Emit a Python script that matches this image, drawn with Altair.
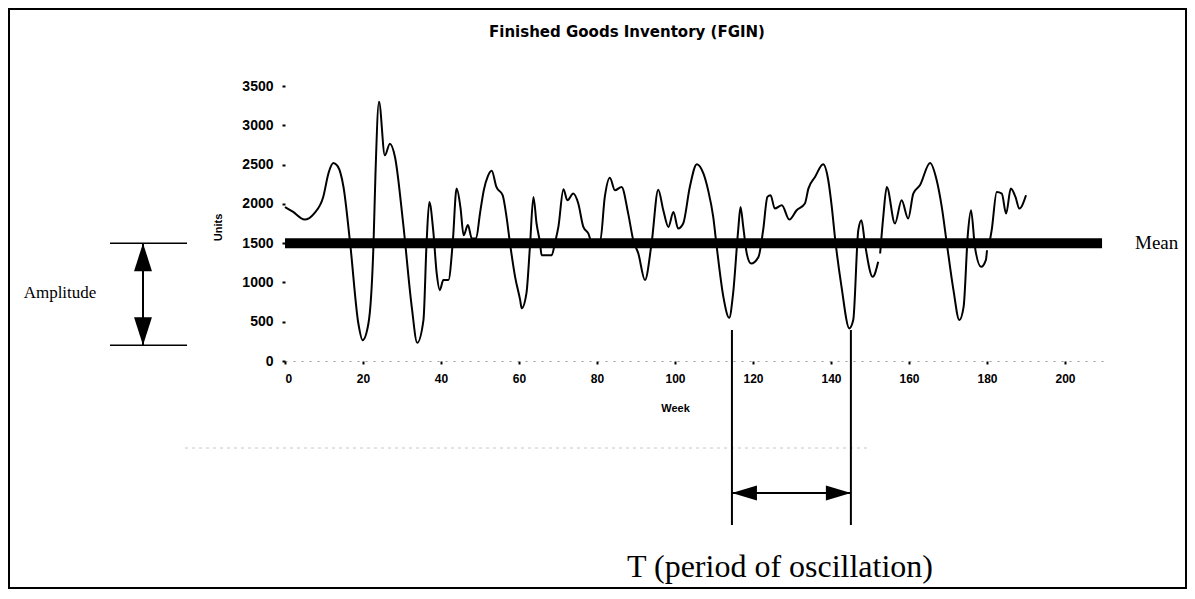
import altair as alt
import pandas as pd

# ---- data (three drawn pieces of the FGIN curve) ----
weeks_a = [0, 2, 5, 7.5, 9.8, 11.2, 12.4, 13.5, 15, 16.7, 18.8, 19.9, 21.4, 22.7, 23.2, 24.1,
           25.6, 26.9, 28.2, 30.3, 32.5, 33.9, 35.5, 36.3, 37, 38, 38.9, 39.7, 40.6, 41.9, 43, 44,
           45, 45.8, 46.9, 47.9, 49, 50, 51, 52, 53, 54.2, 55.8, 56.8, 57.7, 59, 60.3, 60.7,
           61.9, 62.8, 63.7, 64.5, 65.4, 65.8, 68.4, 69.2, 70.1, 71.4, 72.4, 73.9, 75.2, 76.5,
           77.8, 78.6, 80.8, 82, 83.3, 84.6, 86.3, 88, 89.3, 90.6, 92.3, 94, 95.7, 97, 98.3,
           99.6, 100.8, 102.1, 103.8, 105.6, 107.3, 108.5, 109.8, 110.7, 112.4, 113.9, 114.9,
           116.2, 116.8, 117.5, 118.4, 119.5, 121.4, 122.6, 123.7, 124.5, 125.6, 127.4, 129.3,
           131.2, 133.3, 134.2, 135.9, 138, 139.3, 140.2, 141, 142.7, 144.7, 145.7, 147, 147.8,
           148.7, 150.7, 152.1]
units_a = [1960, 1900, 1800, 1880, 2088, 2400, 2520, 2480, 2215, 1500, 480, 265, 480, 1500, 2385, 3300,
           2618, 2766, 2596, 1750, 690, 233, 521, 1500, 2024, 1665, 1114, 902, 1030, 1030, 1500, 2194,
           1950, 1600, 1730, 1560, 1560, 1880, 2180, 2350, 2420, 2215, 2110, 1834, 1495, 1071, 775, 670,
           860, 1453, 2088, 1750, 1500, 1347, 1347, 1500, 1707, 2185, 2046, 2131, 2004, 1707,
           1622, 1520, 1520, 2088, 2333, 2173, 2215, 1876, 1538, 1368, 1030, 1500, 2181, 1919, 1707,
           1897, 1686, 1750, 2215, 2505, 2384, 2173, 1834, 1453, 817, 550, 860,
           1665, 1961, 1707, 1368, 1241, 1325, 1665, 2088, 2110, 1940, 1982, 1800,
           1919, 2004, 2194, 2342, 2503, 2300, 1961, 1580, 944, 415, 521, 1665, 1792,
           1495, 1071, 1262]
weeks_b = [152.6, 153.4, 154.3, 156.4, 158.1, 159.8, 161.1, 162.8, 165.4, 167.1, 168.4, 169.7,
           171.4, 172.9, 174, 175.1, 175.9, 176.9, 178.5, 179.7, 180]
units_b = [1368, 1834, 2215, 1750, 2046, 1813, 2131, 2236, 2520, 2300, 1961, 1495,
           902, 521, 690, 1622, 1919, 1453, 1198, 1283, 1410]
weeks_c = [180.8, 181.2, 182.5, 183.8, 184.9, 186.1, 187.3, 188.3, 190]
units_c = [1550, 1665, 2151, 2131, 1876, 2194, 2088, 1940, 2110]

mean_value = 1500
mean_start, mean_end = 0, 209.5
period_weeks = [114.6, 145.1]
amplitude_levels = [1500, 200]

x_ticks = [0, 20, 40, 60, 80, 100, 120, 140, 160, 180, 200]
y_ticks = [0, 500, 1000, 1500, 2000, 2500, 3000, 3500]

title_text = "Finished Goods Inventory (FGIN)"

rows = []
for seg, (ws, us) in enumerate([(weeks_a, units_a), (weeks_b, units_b), (weeks_c, units_c)]):
    for w, u in zip(ws, us):
        rows.append({"week": w, "units": u, "seg": seg})
df = pd.DataFrame(rows)
one = pd.DataFrame({"k": [0]})

W, H = 819, 275
SANS = "Liberation Sans"
SERIF = "Liberation Serif"

x_scale = alt.Scale(domain=[0, 210], nice=False, zero=False)
y_scale = alt.Scale(domain=[0, 3500], nice=False)

x_axis = alt.Axis(values=x_ticks, title="Week", grid=False, labelFont=SANS,
                  labelFontWeight="bold", labelFontSize=12, labelColor="black",
                  labelPadding=9, tickSize=3, tickWidth=2, tickColor="black",
                  labelOverlap=False, format="d",
                  domain=True, domainDash=[2, 6], domainColor="#9a9a9a", domainWidth=1,
                  titleFont=SANS, titleFontWeight="bold", titleFontSize=11,
                  titleColor="black", titleX=390, titleY=47, titleBaseline="middle")
y_axis = alt.Axis(values=y_ticks, title="Units", grid=False, domain=False,
                  labelFont=SANS, labelFontWeight="bold", labelFontSize=14,
                  labelColor="black", labelPadding=9, tickSize=3, tickWidth=2,
                  tickColor="black", labelOverlap=False, format="d",
                  titleFont=SANS, titleFontWeight="bold", titleFontSize=11,
                  titleColor="black", titleAngle=-90, titleX=-67, titleY=141,
                  titleAlign="center", titleBaseline="middle")


def X(field):
    return alt.X(field, scale=x_scale, axis=x_axis)


def Y(field):
    return alt.Y(field, scale=y_scale, axis=y_axis)


line = alt.Chart(df).mark_line(interpolate="monotone", color="black", strokeWidth=2).encode(
    x=X("week:Q"), y=Y("units:Q"), detail="seg:N")

mean_df = pd.DataFrame({"week": [mean_start], "week2": [mean_end], "units": [mean_value]})
mean_rule = alt.Chart(mean_df).mark_rule(color="black", strokeWidth=10).encode(
    x=X("week:Q"), x2="week2:Q", y=Y("units:Q"))

mean_label = alt.Chart(pd.DataFrame({"units": [mean_value], "t": ["Mean"]})).mark_text(
    font=SERIF, fontSize=19, align="left", baseline="middle", color="black").encode(
    x=alt.value(850), y=Y("units:Q"), text="t:N")

# Amplitude annotation
amp_df = pd.DataFrame({"units": amplitude_levels})
amp_lines = alt.Chart(amp_df).mark_rule(color="black", strokeWidth=1.5).encode(
    x=alt.value(-175), x2=alt.value(-98), y=Y("units:Q"))
amp_shaft_df = pd.DataFrame({"units": [amplitude_levels[0]], "units2": [amplitude_levels[1]]})
amp_shaft = alt.Chart(amp_shaft_df).mark_rule(color="black", strokeWidth=2).encode(
    x=alt.value(-142), y=Y("units:Q"), y2="units2:Q")
amp_up = alt.Chart(pd.DataFrame({"units": [amplitude_levels[0]]})).mark_point(
    shape="M0,0L0.64,2L-0.64,2Z", size=784, filled=True, color="black", opacity=1).encode(
    x=alt.value(-142), y=Y("units:Q"))
amp_down = alt.Chart(pd.DataFrame({"units": [amplitude_levels[1]]})).mark_point(
    shape="M0,0L0.64,-2L-0.64,-2Z", size=784, filled=True, color="black", opacity=1).encode(
    x=alt.value(-142), y=Y("units:Q"))
amp_text = alt.Chart(pd.DataFrame({"t": ["Amplitude"]})).mark_text(
    font=SERIF, fontSize=17, align="center", baseline="middle", color="black").encode(
    x=alt.value(-225), y=alt.value(207), text="t:N")

# Period annotation
per_df = pd.DataFrame({"week": period_weeks})
per_lines = alt.Chart(per_df).mark_rule(color="black", strokeWidth=2).encode(
    x=X("week:Q"), y=alt.value(244), y2=alt.value(439))
per_shaft = alt.Chart(pd.DataFrame({"week": [period_weeks[0]], "week2": [period_weeks[1]]})).mark_rule(
    color="black", strokeWidth=2).encode(x=X("week:Q"), x2="week2:Q", y=alt.value(407))
per_left = alt.Chart(pd.DataFrame({"week": [period_weeks[0]]})).mark_point(
    shape="M0,0L2,-0.6L2,0.6Z", size=625, filled=True, color="black", opacity=1).encode(
    x=X("week:Q"), y=alt.value(407))
per_right = alt.Chart(pd.DataFrame({"week": [period_weeks[1]]})).mark_point(
    shape="M0,0L-2,-0.6L-2,0.6Z", size=625, filled=True, color="black", opacity=1).encode(
    x=X("week:Q"), y=alt.value(407))
per_text = alt.Chart(pd.DataFrame({"t": ["T (period of oscillation)"]})).mark_text(
    font=SERIF, fontSize=32, align="center", baseline="alphabetic", color="black").encode(
    x=alt.value(495), y=alt.value(491), text="t:N")

# faint scan line and frame
faint = alt.Chart(one).mark_rule(color="#c8c8c8", strokeWidth=1, strokeDash=[3, 4]).encode(
    x=alt.value(-100), x2=alt.value(585), y=alt.value(362))
frame = alt.Chart(one).mark_rect(fillOpacity=0, stroke="black", strokeWidth=2).encode(
    x=alt.value(-276), x2=alt.value(901), y=alt.value(-77), y2=alt.value(502))

title = alt.Chart(pd.DataFrame({"t": [title_text]})).mark_text(
    font="DejaVu Sans", fontWeight="bold", fontSize=15, align="center", baseline="middle",
    color="black").encode(x=alt.value(342), y=alt.value(-54), text="t:N")

chart = alt.layer(
    faint, frame, title, line, mean_rule, mean_label,
    amp_lines, amp_shaft, amp_up, amp_down, amp_text,
    per_lines, per_shaft, per_left, per_right, per_text,
).properties(
    width=W, height=H,
    autosize=alt.AutoSizeParams(type="none"),
    padding={"left": 277, "top": 78, "right": 83, "bottom": 228},
    background="white",
).configure_view(stroke=None)

chart.save("out.html", embed_options={"renderer": "svg", "actions": False})
